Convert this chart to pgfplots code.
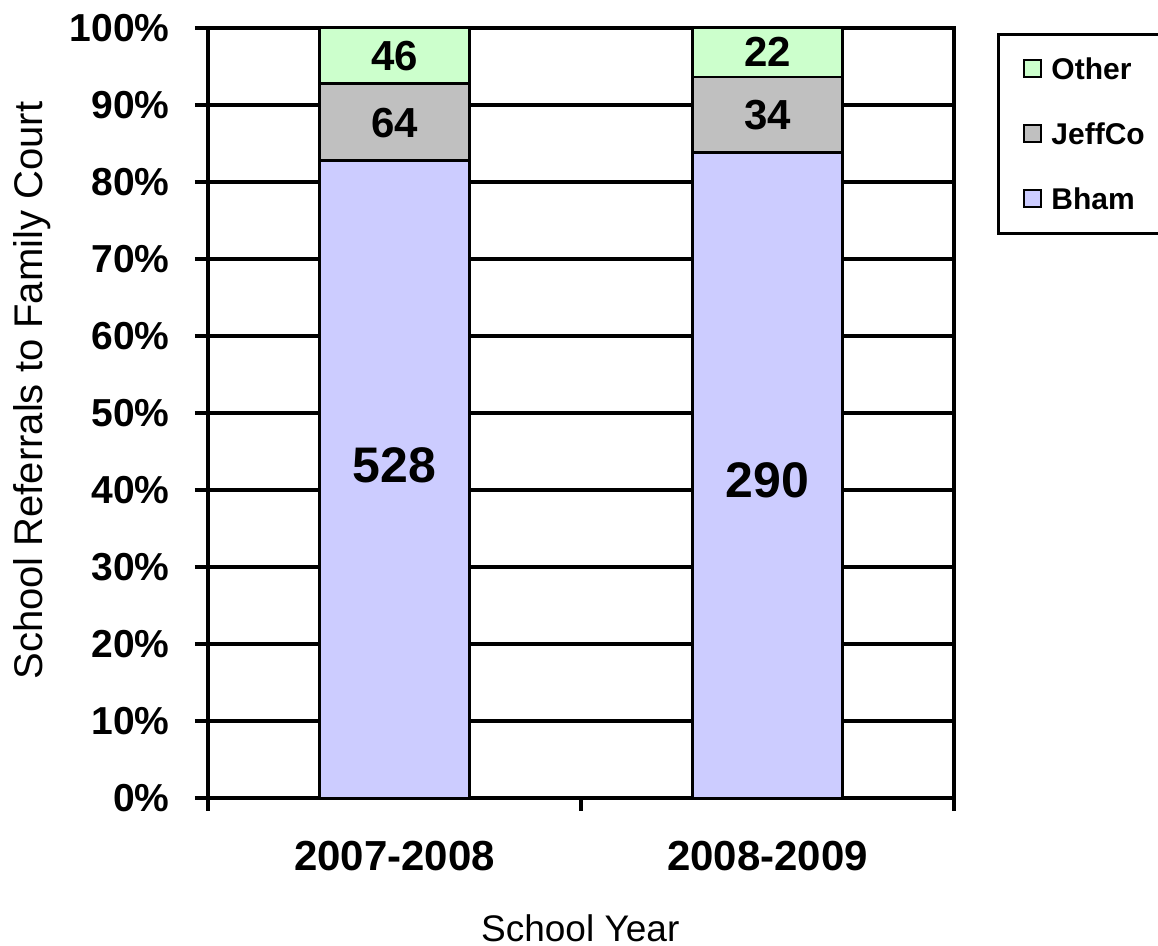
\documentclass[border=0pt]{standalone}
\usepackage{fontspec}
\setmainfont{Liberation Sans}
\usepackage{pgfplots}
\pgfplotsset{compat=1.18}
\definecolor{bham}{HTML}{CCCCFF}
\definecolor{jeff}{HTML}{C0C0C0}
\definecolor{other}{HTML}{CCFFCC}
\pgfplotsset{
  frame/.style={at={(104pt,74pt)}, anchor=south west,
    scale only axis, width=373pt, height=385pt,
    xmin=-0.5, xmax=1.5, ymin=0, ymax=100},
}
\begin{document}
\begin{tikzpicture}
\begin{axis}[
  frame,
  ybar stacked, bar width=75pt,
  xtick={-0.5,0.5,1.5}, xticklabels={},
  extra x ticks={0,1}, extra x tick labels={2007-2008,2008-2009},
  extra x tick style={major tick length=0pt},
  xticklabel style={font=\bfseries\fontsize{21}{21}\selectfont, anchor=center, inner sep=0pt, yshift=-29pt},
  ytick={0,10,...,100},
  yticklabels={0\%,10\%,20\%,30\%,40\%,50\%,60\%,70\%,80\%,90\%,100\%},
  yticklabel style={font=\bfseries\fontsize{19.5}{19.5}\selectfont, anchor=east, inner sep=0pt, xshift=-12.5pt},
  ymajorgrids, major grid style={black, line width=1.6pt},
  axis line style={line width=1.6pt},
  tick style={black, line width=1.6pt},
  major tick length=6.5pt, tick align=outside,
  xtick pos=bottom, ytick pos=left,
  xlabel={School Year}, ylabel={School Referrals to Family Court},
  every axis x label/.style={at={(axis description cs:0.499,-0.1688)}, anchor=center, font=\fontsize{18.5}{18.5}\selectfont},
  every axis y label/.style={at={(axis description cs:-0.236,0.529)}, anchor=center, rotate=90, font=\fontsize{20}{20}\selectfont},
  reverse legend,
  legend style={at={(rel axis cs:1.0576,0.9935)}, anchor=north west, draw=black, line width=1.5pt,
    font=\bfseries\fontsize{15}{15}\selectfont, inner xsep=12.5pt, inner ysep=10.25pt,
    row sep=18.5pt, column sep=4.5pt,
    nodes={inner sep=0pt, text height=12.4pt, text depth=1.6pt, anchor=west}},
  legend image code/.code={\draw[#1, line width=1pt] (0pt,-4.25pt) rectangle (8.5pt,4.25pt);},
  legend cell align=left,
]
% percentages of each year's total (Bham, JeffCo, Other)
\addplot[fill=bham, draw=black, line width=1.3pt] coordinates {(0,82.759) (1,83.815)};
\addlegendentry{Bham}
\addplot[fill=jeff, draw=black, line width=1.3pt] coordinates {(0,10.031) (1,9.827)};
\addlegendentry{JeffCo}
\addplot[fill=other, draw=black, line width=1.3pt] coordinates {(0,7.210) (1,6.358)};
\addlegendentry{Other}
\end{axis}
% overlay axis carrying the count labels (counts: Bham 528/290, JeffCo 64/34, Other 46/22)
\begin{axis}[frame, hide axis, clip=false]
\addplot[draw=none, nodes near coords, point meta=explicit symbolic,
  nodes near coords style={anchor=center, inner sep=0pt, font=\bfseries\fontsize{25}{25}\selectfont}]
  coordinates {(0,43.2) [528] (1,41.3) [290]};
\addplot[draw=none, nodes near coords, point meta=explicit symbolic,
  nodes near coords style={anchor=center, inner sep=0pt, font=\bfseries\fontsize{21}{21}\selectfont}]
  coordinates {(0,87.6) [64] (1,88.7) [34] (0,96.3) [46] (1,96.9) [22]};
\end{axis}
\pgfresetboundingbox
\path[use as bounding box] (0,0) rectangle (579pt,473pt);
\end{tikzpicture}
\end{document}
